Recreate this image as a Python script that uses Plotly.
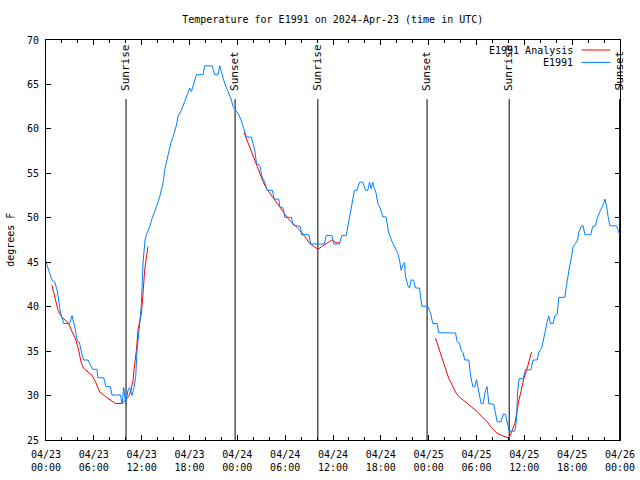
import pandas as pd
import plotly.graph_objects as go

BASE = pd.Timestamp("2024-04-23 00:00")

# E1991 observations: hours after 2024-04-23 00:00 UTC, temperature (F)
obs_hours = [0.0, 0.55, 0.75, 1.09, 1.38, 1.59, 1.81, 2.22, 2.97, 3.26, 3.48, 3.69, 3.89, 4.19, 4.44,
             4.73, 5.27, 5.57, 5.86, 6.40, 6.52, 7.24, 7.53, 8.08, 8.28, 9.34, 9.54, 9.75, 10.0, 10.29,
             10.5, 10.79, 11.04, 11.25, 11.42, 11.76, 11.97, 12.17, 12.42, 12.6, 13.01, 13.3, 13.64,
             13.85, 14.27, 14.68, 14.89, 15.1, 15.31, 15.65, 15.93, 16.36, 16.56, 16.99, 17.4, 17.82,
             18.03, 18.24, 18.53, 18.87, 19.7, 19.91, 20.83, 21.17, 21.58, 21.79, 22.01, 22.42, 22.84,
             23.26, 23.46, 23.76, 24.09, 24.43, 24.72, 25.14, 25.77, 26.19, 26.4, 26.81, 27.1, 27.44,
             27.73, 28.41, 28.61, 29.2, 29.32, 29.74, 29.95, 30.79, 30.99, 31.92, 32.05, 32.96, 33.21,
             34.9, 35.16, 35.85, 36.1, 36.81, 37.1, 37.64, 37.77, 37.94, 38.14, 38.27, 38.57, 38.69,
             39.02, 39.32, 39.74, 40.07, 40.36, 40.58, 40.78, 40.99, 41.2, 41.41, 41.62, 41.91, 42.25,
             42.66, 42.96, 43.16, 43.5, 43.79, 44.13, 44.34, 44.54, 44.76, 44.97, 45.09, 45.38, 45.6,
             45.8, 46.1, 46.35, 46.85, 46.98, 47.14, 47.89, 48.23, 48.52, 49.06, 49.27, 51.37, 51.57,
             51.87, 52.07, 52.32, 52.53, 53.04, 53.25, 53.54, 53.79, 54.0, 54.17, 54.38, 54.58, 54.83,
             55.13, 55.33, 55.54, 56.17, 56.39, 56.59, 57.09, 57.34, 57.64, 57.93, 58.09, 58.81, 59.02,
             59.15, 59.35, 59.85, 60.15, 60.82, 61.1, 61.61, 61.82, 62.16, 62.36, 62.57, 62.86, 63.07,
             63.28, 63.61, 63.82, 64.11, 64.33, 65.08, 65.29, 65.49, 65.71, 65.92, 66.12, 66.42, 66.67,
             66.84, 67.18, 67.38, 67.59, 68.34, 68.56, 68.93, 69.18, 69.47, 69.76, 69.97, 70.1, 70.31,
             70.51, 70.72, 71.56, 71.88, 72.0]
obs_temps = [45.0, 43.6, 43.0, 42.8, 41.9, 40.75, 39.4, 38.1, 38.1, 39.0, 38.3, 37.4, 36.25, 36.0, 34.9,
             34.0, 34.0, 33.4, 32.95, 32.95, 32.0, 32.0, 31.0, 31.0, 30.06, 30.06, 29.05, 30.9, 29.05, 30.6,
             30.9, 30.0, 30.9, 32.1, 35.1, 38.1, 40.4, 44.9, 47.5, 48.1, 49.0, 49.9, 50.9,
             51.25, 52.4, 53.9, 55.4, 56.3, 57.25, 58.4, 59.1, 60.4, 61.4, 62.1, 63.1, 64.2,
             64.6, 64.2, 65.1, 66.1, 66.1, 67.1, 67.1, 66.1, 66.1, 67.1, 66.4, 65.1, 64.2,
             63.25, 62.5, 62.1, 61.75, 61.1, 60.25, 59.1, 59.05, 57.6, 56.1, 55.9, 54.6, 54.0,
             53.1, 53.1, 52.1, 52.1, 51.25, 51.1, 50.05, 50.05, 49.2, 49.0, 48.1, 48.1, 47.05,
             47.05, 48.0, 48.0, 47.05, 47.05, 48.0, 48.0, 48.55, 49.4, 50.5, 51.4, 52.7, 53.1,
             53.1, 54.0, 54.0, 53.1, 53.1, 54.0, 53.3, 54.0, 53.3, 52.75, 51.6, 51.1, 50.1,
             50.1, 48.4, 47.9, 47.1, 46.6, 46.0, 45.25, 44.1, 44.7, 44.95, 43.4, 42.4, 42.1,
             43.0, 43.0, 42.1, 42.1, 40.9, 40.05, 40.05, 39.3, 38.1, 38.1, 37.05, 37.05, 36.05,
             35.9, 35.1, 34.8, 34.0, 34.0, 32.3, 31.0, 31.0, 31.8, 31.0, 29.9, 29.1, 29.1,
             30.6, 31.0, 29.1, 29.0, 27.8, 27.05, 27.05, 27.9, 27.9, 26.7, 26.0, 26.0, 27.25,
             30.4, 31.9, 31.9, 32.9, 32.9, 34.0, 34.0, 34.9, 35.3, 36.05, 37.0, 38.3, 38.95,
             38.1, 38.1, 38.95, 39.1, 41.05, 41.05, 42.4, 43.75, 44.7, 45.6, 46.75, 47.1, 47.5,
             48.4, 49.1, 49.1, 48.1, 48.1, 49.0, 49.1, 50.05, 50.7, 51.25, 51.6, 52.1, 51.4,
             50.1, 49.1, 49.1, 48.25, 48.25]

# E1991 Analysis (three 12-hour segments, None = gap)
ana_hours = [0.75, 0.97, 1.25, 1.51, 1.81, 2.1, 2.43, 2.85, 3.26, 3.69, 4.1, 4.44, 4.73, 5.27, 5.77,
             6.2, 6.74, 7.45, 8.08, 8.71, 9.54, 9.96, 10.38, 10.67, 10.92, 11.04, 11.34, 11.54, 11.97,
             12.17, 12.38, 12.6, 12.8, 18.0,
             24.84, 25.14, 25.56, 25.97, 26.4, 26.81, 27.23, 27.65, 28.07, 28.48, 29.11, 29.74, 30.36,
             31.2, 31.83, 32.46, 33.09, 33.72, 34.13, 34.55, 35.18, 35.56, 35.85, 36.39, 36.81, 42.0,
             48.86, 49.27, 49.69, 50.11, 50.53, 50.94, 51.37, 51.78, 52.2, 52.62, 53.25, 54.08, 54.71,
             55.33, 55.96, 56.59, 57.21, 57.84, 58.07, 58.49, 58.82, 59.12, 59.32, 59.62, 59.94, 60.24,
             60.57, 60.91]
ana_temps = [42.4, 41.5, 40.55, 39.6, 39.06, 38.7, 38.5, 38.1, 37.2, 36.4, 35.1, 33.6, 33.05, 32.7, 32.3,
             31.56, 30.4, 29.9, 29.5, 29.1, 29.1, 29.5, 29.9, 30.6, 31.75, 32.9, 35.1, 37.4, 39.25,
             41.5, 44.1, 45.6, 46.75, None,
             59.6, 58.9, 58.0, 57.06, 55.9, 55.0, 54.06, 53.3, 52.75, 52.2, 51.4, 50.7, 49.9,
             49.2, 48.6, 47.9, 47.1, 46.7, 46.45, 46.75, 47.1, 47.4, 47.5, 47.2, 47.2, None,
             36.45, 35.3, 34.0, 32.9, 31.9, 31.2, 30.4, 29.9, 29.6, 29.3, 28.8, 28.2, 27.6,
             27.05, 26.3, 25.75, 25.5, 25.3, 25.2, 26.1, 26.9, 28.4, 29.5, 30.6, 31.9, 32.7,
             33.8, 34.9]

# Sun events (hours after 2024-04-23 00:00 UTC)
event_hours = [10.04, 23.72, 34.1, 47.8, 58.1, 71.95]
event_labels = ["Sunrise", "Sunset", "Sunrise", "Sunset", "Sunrise", "Sunset"]

y_ticks = [25, 30, 35, 40, 45, 50, 55, 60, 65, 70]


def to_time(hours):
    return [BASE + pd.Timedelta(hours=h) for h in hours]


FONT = "DejaVu Sans Mono"
RED = "#ff0000"
BLUE = "#0080ff"
LINE_TOP = 63.35

fig = go.Figure()

for h in event_hours:
    t = BASE + pd.Timedelta(hours=h)
    fig.add_shape(type="line", xref="x", yref="y", x0=t, x1=t, y0=25, y1=LINE_TOP,
                  line=dict(color="black", width=1), layer="below")
for h, lab in zip(event_hours, event_labels):
    t = BASE + pd.Timedelta(hours=h)
    fig.add_annotation(x=t, y=LINE_TOP + 0.7, xref="x", yref="y", text=lab, textangle=-90,
                       showarrow=False, xanchor="center", yanchor="bottom",
                       font=dict(family=FONT, size=11, color="black"))

fig.add_trace(go.Scatter(x=to_time(ana_hours), y=ana_temps, mode="lines", name="E1991 Analysis",
                         line=dict(color=RED, width=1), connectgaps=False, showlegend=False))
fig.add_trace(go.Scatter(x=to_time(obs_hours), y=obs_temps, mode="lines", name="E1991",
                         line=dict(color=BLUE, width=1), showlegend=False))

# manual legend (text left of sample, gnuplot style)
legend_rows = [("E1991 Analysis", RED, 0.975), ("E1991", BLUE, 0.944)]
for txt, col, yy in legend_rows:
    fig.add_annotation(x=0.921, y=yy, xref="paper", yref="paper", text=txt, showarrow=False,
                       xanchor="right", yanchor="middle", font=dict(family=FONT, size=10, color="black"))
    fig.add_shape(type="line", xref="paper", yref="paper", x0=0.933, x1=0.983, y0=yy, y1=yy,
                  line=dict(color=col, width=1))

fig.add_annotation(x=-0.063, y=0.5, xref="paper", yref="paper", text="degrees F", textangle=-90,
                   showarrow=False, xanchor="center", yanchor="middle",
                   font=dict(family=FONT, size=10, color="black"))

fig.update_layout(
    width=640, height=480,
    margin=dict(l=46, r=20, t=40, b=40),
    paper_bgcolor="white", plot_bgcolor="white",
    title=dict(text="Temperature for E1991 on 2024-Apr-23 (time in UTC)", x=0.52, xanchor="center",
               y=0.96, yanchor="middle", font=dict(family=FONT, size=10, color="black")),
    font=dict(family=FONT, size=10, color="black"),
    showlegend=False,
)
fig.update_xaxes(
    range=[BASE, BASE + pd.Timedelta(hours=72)], automargin=False,
    type="date", tick0=BASE, dtick=6 * 3600 * 1000, tickformat="%m/%d<br>%H:%M",
    ticks="inside", ticklen=5, tickcolor="black", showgrid=False, zeroline=False,
    showline=True, linecolor="black", linewidth=1, mirror="allticks", ticklabelstandoff=5,
    minor=dict(dtick=2 * 3600 * 1000, ticks="inside", ticklen=3, tickcolor="black", showgrid=False),
    tickfont=dict(family=FONT, size=10, color="black"),
)
fig.update_yaxes(
    range=[25, 70], tickvals=y_ticks, automargin=False, ticks="inside", ticklen=5, tickcolor="black",
    showgrid=False, zeroline=False, showline=True, linecolor="black", linewidth=1, mirror="allticks",
    tickfont=dict(family=FONT, size=10, color="black"), ticklabelstandoff=4,
)

fig.write_html("out.html", config={"displayModeBar": False},
               post_script="document.body.style.margin='0';document.body.style.overflow='hidden';")
